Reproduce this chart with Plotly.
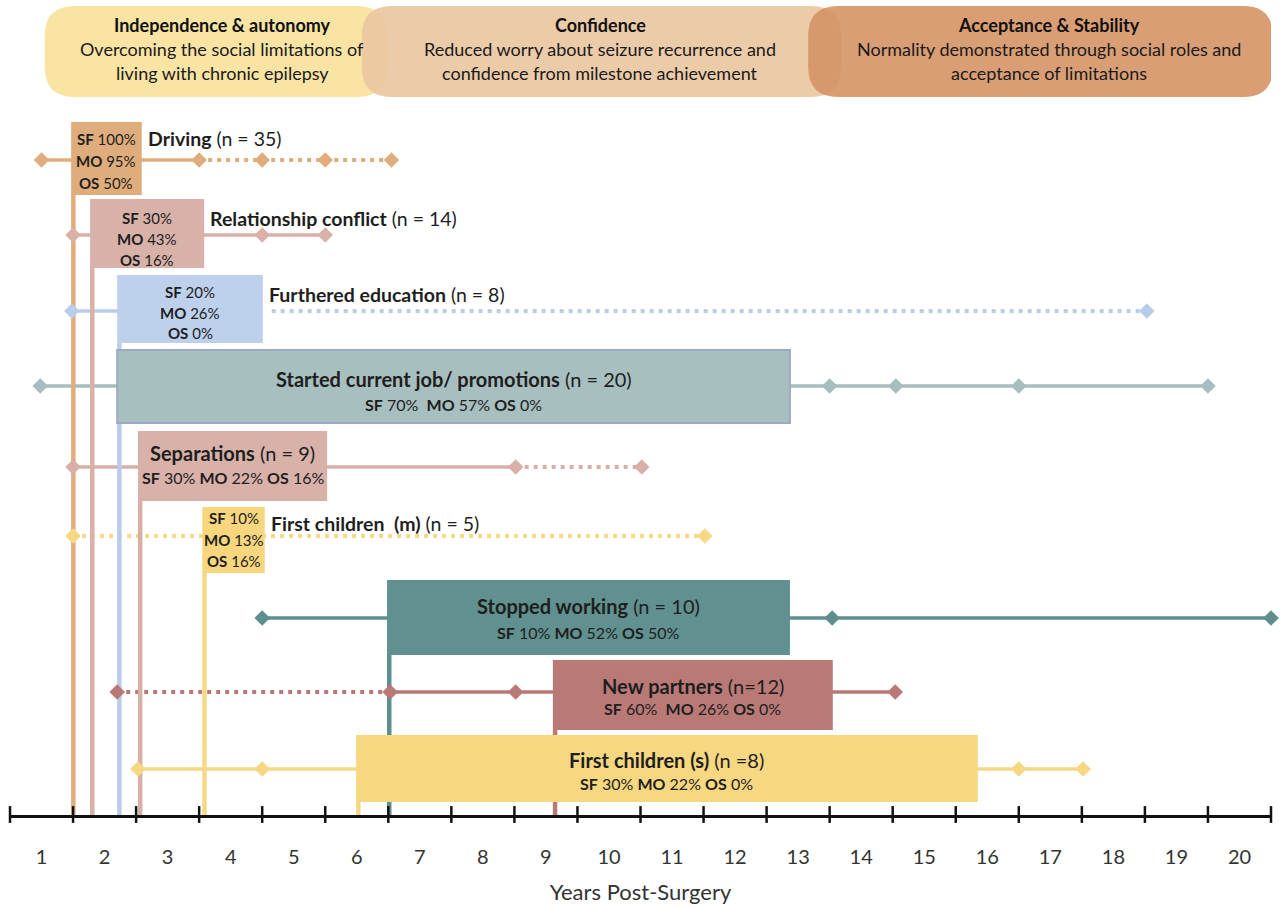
import plotly.graph_objects as go

# ---------------- data ----------------
PHASE_TITLES = ["Independence & autonomy", "Confidence", "Acceptance & Stability"]
PHASE_LINES = [
    ["Overcoming the social limitations of", "living with chronic epilepsy"],
    ["Reduced worry about seizure recurrence and", "confidence from milestone achievement"],
    ["Normality demonstrated through social roles and", "acceptance of limitations"],
]
PHASE_START = [1.05, 6.08, 13.16]   # years post-surgery
PHASE_END = [6.48, 13.68, 20.53]

EVENTS = ["Driving", "Relationship conflict", "Furthered education",
          "Started current job/ promotions", "Separations", "First children  (m)",
          "Stopped working", "New partners", "First children (s)"]
N_LABELS = ["(n = 35)", "(n = 14)", "(n = 8)", "(n = 20)", "(n = 9)", "(n = 5)",
            "(n = 10)", "(n=12)", "(n =8)"]
SF = [100, 30, 20, 70, 30, 10, 10, 60, 30]
MO = [95, 43, 26, 57, 22, 13, 52, 26, 22]
OS = [50, 16, 0, 0, 16, 16, 50, 0, 0]

BOX_START = [1.47, 1.77, 2.20, 2.20, 2.53, 3.55, 6.48, 9.11, 5.99]
BOX_END = [2.59, 3.58, 4.51, 12.87, 5.53, 4.54, 12.87, 13.55, 15.85]

POINTS = [
    [1.0, 3.5, 4.5, 5.5, 6.55],
    [1.5, 4.5, 5.5],
    [1.48, 18.53],
    [0.98, 13.5, 14.55, 16.5, 19.5],
    [1.5, 8.52, 10.52],
    [1.5, 11.52],
    [4.5, 13.54, 20.5],
    [2.2, 6.53, 8.52, 14.54],
    [2.53, 4.5, 16.5, 17.52],
]
SOLID_SPANS = [
    [(1.0, 3.5)], [(1.5, 5.5)], [(1.48, 2.3)], [(0.98, 19.5)], [(1.5, 8.52)],
    [], [(4.5, 20.5)], [(6.53, 14.54)], [(2.53, 17.52)],
]
DOTTED_SPANS = [
    [(3.5, 6.55)], [], [(4.65, 18.53)], [], [(8.52, 10.52)],
    [(1.5, 11.52)], [], [(2.2, 6.53)], [],
]

YEARS = list(range(1, 21))

# ---------------- styling / layout ----------------
W, H = 1280, 908
ML, MR, MT, MB = 10, 9, 0, 93
PX_PER_YEAR = (W - ML - MR) / 20.0
FONT = "Lato"
TXT = "#1e1e1e"

ROW_COLORS = ["#E0AE7C", "#D9B1A9", "#B9CDEA", "#A7BEBE", "#D8B0A8",
              "#F7D985", "#5F8E8F", "#B97976", "#F6D882"]
BOX_COLORS = ["#DFAD7B", "#D8B1A9", "#BDD0EC", "#A8BFBF", "#D8B1A9",
              "#F7D67E", "#60908F", "#B97A76", "#F7D881"]
BOX_BORDER = [None, None, None, "#9DAAC5", None, None, None, None, None]
HAS_DROP = [True, True, True, False, True, True, True, True, True]
ROW_Y = [160, 235, 311, 386, 467, 536, 618, 692, 769]
BOX_TOP = [122, 199, 275, 350, 431, 507, 580, 660, 735]
BOX_BOT = [195, 268, 343, 423, 501, 573, 655, 730, 802]
STACKED = [True, True, True, False, False, True, False, False, False]
STAT_GAP = [" ", " ", " ", "  ", " ", " ", " ", "  ", " "]
STACK_Y = {0: [139, 161, 183], 1: [218, 239, 260], 2: [292, 313, 333], 5: [518, 540, 561]}
STACK_TITLE_Y = {0: 138, 1: 218, 2: 294, 5: 523}
INLINE_Y = {3: [379, 404], 4: [453, 477], 6: [606, 632], 7: [686, 708], 8: [760, 783]}
AXIS_Y = 815
PHASE_COLORS = ["rgba(249,226,156,0.92)", "rgba(234,197,160,0.9)", "rgba(213,148,101,0.9)"]
PHASE_CX = [222, 600, 1049]

fig = go.Figure()

# horizontal time-range lines
for i in range(len(EVENTS)):
    for (a, b) in SOLID_SPANS[i]:
        fig.add_trace(go.Scatter(x=[a, b], y=[ROW_Y[i]] * 2, mode="lines",
                                 line=dict(color=ROW_COLORS[i], width=3.6),
                                 hoverinfo="skip", showlegend=False))
    for (a, b) in DOTTED_SPANS[i]:
        fig.add_trace(go.Scatter(x=[a, b], y=[ROW_Y[i]] * 2, mode="lines",
                                 line=dict(color=ROW_COLORS[i], width=4, dash="4px,5px"),
                                 hoverinfo="skip", showlegend=False))

# vertical drop lines from box to axis
for i in range(len(EVENTS)):
    if not HAS_DROP[i]:
        continue
    xv = BOX_START[i] + 2.2 / PX_PER_YEAR
    fig.add_trace(go.Scatter(x=[xv, xv], y=[BOX_BOT[i], AXIS_Y], mode="lines",
                             line=dict(color=ROW_COLORS[i], width=4.5),
                             hoverinfo="skip", showlegend=False, cliponaxis=False))

# diamonds
for i in range(len(EVENTS)):
    fig.add_trace(go.Scatter(x=POINTS[i], y=[ROW_Y[i]] * len(POINTS[i]), mode="markers",
                             marker=dict(symbol="diamond", size=12, color=ROW_COLORS[i],
                                         line=dict(width=0)),
                             hoverinfo="skip", showlegend=False, cliponaxis=False))

# axis cross ticks
tick_x = [y - 0.5 for y in YEARS] + [YEARS[-1] + 0.5]
fig.add_trace(go.Scatter(x=tick_x, y=[AXIS_Y - 0.5] * len(tick_x), mode="markers",
                         marker=dict(symbol="line-ns", size=12, color="#111111",
                                     line=dict(color="#111111", width=2.5)),
                         hoverinfo="skip", showlegend=False, cliponaxis=False))

shapes = []
annotations = []


def rrect(x0, x1, y0, y1, rpx):
    rx = rpx / PX_PER_YEAR
    ry = rpx
    return (f"M {x0 + rx},{y0} L {x1 - rx},{y0} Q {x1},{y0} {x1},{y0 + ry} "
            f"L {x1},{y1 - ry} Q {x1},{y1} {x1 - rx},{y1} L {x0 + rx},{y1} "
            f"Q {x0},{y1} {x0},{y1 - ry} L {x0},{y0 + ry} Q {x0},{y0} {x0 + rx},{y0} Z")


# phase header boxes
for k in range(3):
    shapes.append(dict(type="path", xref="x", yref="y",
                       path=rrect(PHASE_START[k], PHASE_END[k], 6, 97, 30),
                       fillcolor=PHASE_COLORS[k], line=dict(width=0), layer="above"))
    cx = (PHASE_CX[k] - ML) / PX_PER_YEAR + 0.5
    annotations.append(dict(x=cx, y=25, xref="x", yref="y", showarrow=False,
                            text=f"<b>{PHASE_TITLES[k]}</b>",
                            font=dict(family=FONT, size=18, color="#111111")))
    for j, line in enumerate(PHASE_LINES[k]):
        annotations.append(dict(x=cx, y=49 + 24 * j, xref="x", yref="y", showarrow=False,
                                text=line, font=dict(family=FONT, size=18, color="#1a1a1a")))

# event boxes
for i in range(len(EVENTS)):
    bl = dict(width=0)
    if BOX_BORDER[i]:
        bl = dict(color=BOX_BORDER[i], width=2)
    shapes.append(dict(type="rect", xref="x", yref="y",
                       x0=BOX_START[i], x1=BOX_END[i], y0=BOX_TOP[i], y1=BOX_BOT[i],
                       fillcolor=BOX_COLORS[i], line=bl, layer="above"))
    cx = (BOX_START[i] + BOX_END[i]) / 2
    if STACKED[i]:
        stats = [f"<b>SF</b> {SF[i]}%", f"<b>MO</b> {MO[i]}%", f"<b>OS</b> {OS[i]}%"]
        for j, s in enumerate(stats):
            annotations.append(dict(x=cx, y=STACK_Y[i][j], xref="x", yref="y",
                                    showarrow=False, text=s,
                                    font=dict(family=FONT, size=15, color=TXT)))
        annotations.append(dict(x=BOX_END[i] + 4 / PX_PER_YEAR, y=STACK_TITLE_Y[i],
                                xref="x", yref="y", xanchor="left", showarrow=False,
                                text=f"<b>{EVENTS[i]}</b> {N_LABELS[i]}",
                                font=dict(family=FONT, size=19.5, color=TXT)))
    else:
        annotations.append(dict(x=cx, y=INLINE_Y[i][0], xref="x", yref="y",
                                showarrow=False,
                                text=f"<b>{EVENTS[i]}</b> {N_LABELS[i]}",
                                font=dict(family=FONT, size=20, color=TXT)))
        g = STAT_GAP[i]
        annotations.append(dict(x=cx, y=INLINE_Y[i][1], xref="x", yref="y",
                                showarrow=False,
                                text=f"<b>SF</b> {SF[i]}%{g}<b>MO</b> {MO[i]}% <b>OS</b> {OS[i]}%",
                                font=dict(family=FONT, size=16, color=TXT)))

fig.update_layout(
    width=W, height=H,
    margin=dict(l=ML, r=MR, t=MT, b=MB),
    paper_bgcolor="white", plot_bgcolor="white",
    shapes=shapes, annotations=annotations,
    showlegend=False,
    xaxis=dict(range=[0.5, 20.5], tickmode="array", tickvals=YEARS,
               ticktext=[str(y) for y in YEARS], ticks="", showgrid=False,
               zeroline=False, showline=True, linecolor="#111111", linewidth=3,
               tickfont=dict(family=FONT, size=20, color="#333333"),
               ticklabelstandoff=22,
               title=dict(text="Years Post-Surgery", standoff=18,
                          font=dict(family=FONT, size=22, color="#333333"))),
    yaxis=dict(range=[AXIS_Y, 0], visible=False, showgrid=False, zeroline=False),
)

fig.write_html("out.html", config={"displayModeBar": False},
               post_script="document.body.style.margin='0';document.body.style.padding='0';")
